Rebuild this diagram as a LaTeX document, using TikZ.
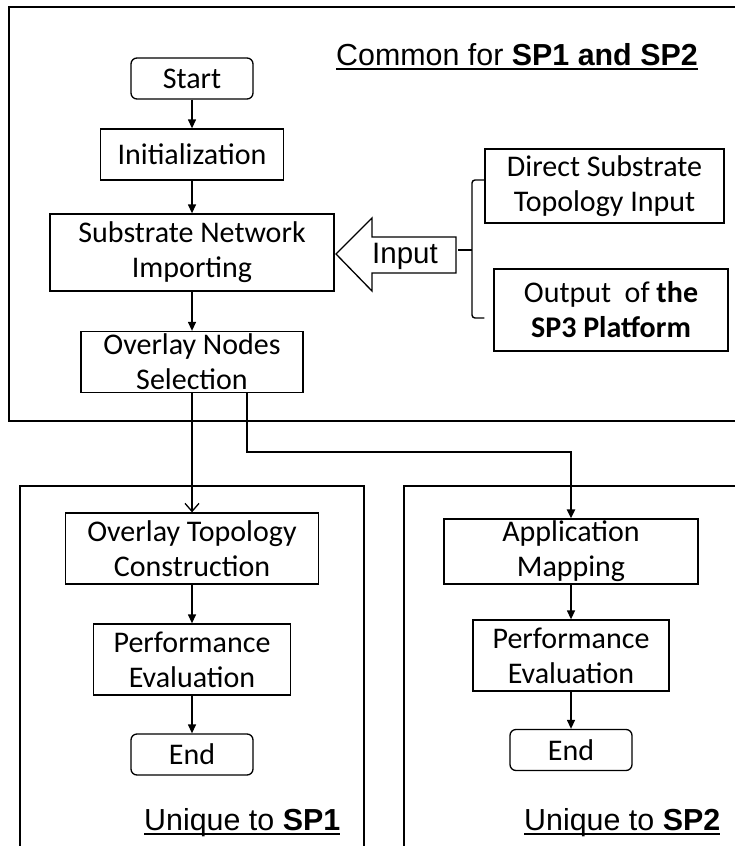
\documentclass[tikz,border=0pt]{standalone}
\usepackage{fontspec}
\setmainfont{Carlito}
\newfontfamily\arialfont{Liberation Sans}
\usetikzlibrary{positioning,arrows.meta}
\newcommand{\boxfont}{\fontsize{30}{35}\selectfont}
\newcommand{\tagfont}{\arialfont\fontsize{30.4}{36}\selectfont}
\tikzset{
    stepbox/.style={rectangle,draw,line width=1.3pt,align=center,font=\boxfont,inner sep=0pt},
    termbox/.style={stepbox,rounded corners=6pt,minimum width=122pt,minimum height=41pt},
    region/.style={draw,line width=1.3pt},
    flow/.style={-{Triangle[length=9pt,width=8pt]},line width=1.3pt},
    tag/.style={font=\tagfont,inner sep=0pt,anchor=base west},
}

\begin{document}
\begin{tikzpicture}[x=1pt,y=-1pt]
\clip (0,0) rectangle (735,846);
% frames of the three parts
\draw[region] (9,7) rectangle (745,421);
\draw[region] (20,486) rectangle (364,860);
\draw[region] (404,486) rectangle (745,860);

% shared steps
\node[tag] (common) at (336,65) {Common for \textbf{SP1 and SP2}};
\draw[line width=2pt] ([yshift=-4pt]common.base west) -- ([yshift=-4pt]common.base east);
\node[termbox] (start) at (192,78.5) {Start};
\node[stepbox,minimum width=183pt,minimum height=51pt] (init) at (192,154.5) {Initialization};
\node[stepbox,minimum width=284pt,minimum height=77pt] (sni) at (192,252.5) {Substrate Network\\Importing};
\node[stepbox,minimum width=222pt,minimum height=61pt] (ons) at (192,362) {Overlay Nodes\\Selection};

% input sources
\node[stepbox,minimum width=239pt,minimum height=74pt] (dsti) at (604.5,186) {Direct Substrate\\Topology Input};
\node[stepbox,minimum width=234pt,minimum height=82pt] (sp3) at (611,310) {Output\ \ of \textbf{the}\\\textbf{SP3 Platform}};
\draw[line width=1.3pt] (336,254) -- (372,218) -- (372,237) -- (456,237) -- (456,273) -- (372,273) -- (372,291) -- cycle;
\node[font=\arialfont\fontsize{29.5}{34}\selectfont,inner sep=0pt] (input) at (405,256) {Input};
\coordinate (brace) at (472,250);
\draw[line width=1.4pt,rounded corners=3pt] ([yshift=6pt]dsti.west) -| (brace) |- ([yshift=-8pt]dsti.west |- sp3.west);
\draw[line width=1.8pt] (brace) -- (458,250);

% SP1 branch
\node[stepbox,minimum width=253pt,minimum height=71pt] (otc) at (192,548.5) {Overlay Topology\\Construction};
\node[stepbox,minimum width=197pt,minimum height=71pt] (pe1) at (192,659.5) {Performance\\Evaluation};
\node[termbox] (end1) at (192,754.5) {End};
\node[tag] (uniq1) at (144,830) {Unique to \textbf{SP1}};
\draw[line width=2pt] ([yshift=-4pt]uniq1.base west) -- ([yshift=-4pt]uniq1.base east);

% SP2 branch
\node[stepbox,minimum width=254pt,minimum height=65pt] (am) at (571,551.5) {Application\\Mapping};
\node[stepbox,minimum width=196pt,minimum height=71pt] (pe2) at (571,655.5) {Performance\\Evaluation};
\node[termbox] (end2) at (571,750) {End};
\node[tag] (uniq2) at (524,830) {Unique to \textbf{SP2}};
\draw[line width=2pt] ([yshift=-4pt]uniq2.base west) -- ([yshift=-4pt]uniq2.base east);

% arrows
\draw[flow] (start) -- (init);
\draw[flow] (init) -- (sni);
\draw[flow] (sni) -- (ons);
\draw[-{Straight Barb[length=8pt,width=14pt]},line width=1.3pt] (ons) -- (otc);
\coordinate (fork) at (247,452);
\draw[flow,line width=2.6pt] (ons.south -| fork) -- (fork) -| (am.north);
\draw[flow] (otc) -- (pe1);
\draw[flow] (pe1) -- (end1);
\draw[flow] (am) -- (pe2);
\draw[flow] (pe2) -- (end2);
\end{tikzpicture}
\end{document}
